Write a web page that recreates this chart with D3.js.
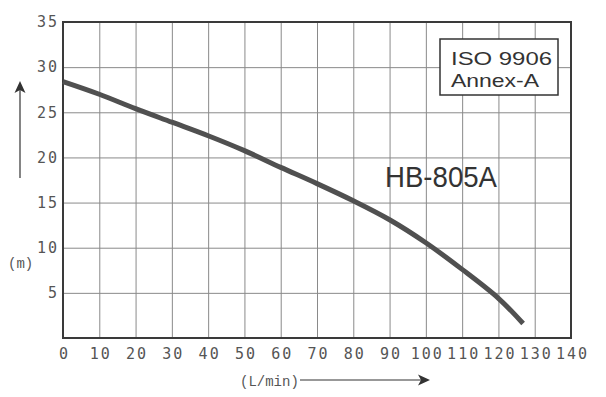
<!DOCTYPE html>
<html>
<head>
<meta charset="utf-8">
<script src="https://cdn.jsdelivr.net/npm/d3@7"></script>
<style>
body { margin: 0; background: #fff; }
.grid line { stroke: #8a8a8a; stroke-width: 1; }
.grid path { display: none; }
.tick text { font-family: "DejaVu Sans Mono", monospace; font-size: 15px; fill: #555; letter-spacing: 2px; }
</style>
</head>
<body>
<div class="chart"></div>
<script>
'use strict';
var flow = [0, 10, 20, 30, 40, 50, 60, 70, 80, 90, 100, 110, 120, 126.8];
var head = [28.4, 27.0, 25.4, 23.9, 22.4, 20.75, 18.9, 17.1, 15.2, 13.1, 10.55, 7.6, 4.4, 1.6];
var xTicks = [0, 10, 20, 30, 40, 50, 60, 70, 80, 90, 100, 110, 120, 130, 140];
var yTicks = [5, 10, 15, 20, 25, 30, 35];

var margin = {top: 22, left: 63, right: 35, bottom: 59};
var W = 606, H = 397;
var svg = {w: W - margin.left - margin.right, h: H - margin.top - margin.bottom};

var chart = d3.select(".chart")
  .append("svg")
    .attr("width", W)
    .attr("height", H);

var xScale = d3.scaleLinear().domain([0, 140]).range([0, svg.w]);
var yScale = d3.scaleLinear().domain([0, 35]).range([svg.h, 0]);

var g = chart.append("g")
  .attr("transform", "translate(" + margin.left + "," + margin.top + ")");

// grid + labels
g.append("g")
  .attr("class", "grid")
  .attr("transform", "translate(0," + svg.h + ")")
  .call(d3.axisBottom(xScale).tickValues(xTicks).tickSize(-svg.h).tickPadding(10).tickFormat(d3.format("d")))
  .selectAll("text").attr("dx", "1px");

g.append("g")
  .attr("class", "grid")
  .call(d3.axisLeft(yScale).tickValues(yTicks).tickSize(-svg.w).tickPadding(4).tickFormat(d3.format("d")));

// frame
g.append("rect")
  .attr("width", svg.w).attr("height", svg.h)
  .attr("fill", "none").attr("stroke", "#3a3a3a").attr("stroke-width", 2);

// curve
var line = d3.line()
  .x(function(d, i) { return xScale(flow[i]); })
  .y(function(d) { return yScale(d); })
  .curve(d3.curveCatmullRom.alpha(0.5));

g.append("path")
  .datum(head)
  .attr("d", line)
  .attr("fill", "none")
  .attr("stroke", "#505050")
  .attr("stroke-width", 5)
  .attr("stroke-linecap", "butt");

// ISO box
chart.append("rect")
  .attr("x", 440).attr("y", 39).attr("width", 118).attr("height", 56)
  .attr("fill", "#fff").attr("stroke", "#333").attr("stroke-width", 1.5);
chart.append("text")
  .attr("x", 451).attr("y", 65)
  .attr("textLength", 101).attr("lengthAdjust", "spacingAndGlyphs")
  .style("font-family", "Liberation Sans, Arial, sans-serif")
  .style("font-size", "19px").style("fill", "#333")
  .text("ISO 9906");
chart.append("text")
  .attr("x", 451).attr("y", 87)
  .attr("textLength", 88).attr("lengthAdjust", "spacingAndGlyphs")
  .style("font-family", "Liberation Sans, Arial, sans-serif")
  .style("font-size", "19px").style("fill", "#333")
  .text("Annex-A");

chart.append("text")
  .attr("x", 385).attr("y", 187)
  .attr("textLength", 112).attr("lengthAdjust", "spacingAndGlyphs")
  .style("font-family", "Liberation Sans, Arial, sans-serif")
  .style("font-size", "30px").style("fill", "#333")
  .text("HB-805A");

// axis units and arrows
chart.append("text")
  .attr("x", 8).attr("y", 268)
  .style("font-family", "Liberation Mono, Courier New, monospace")
  .style("font-size", "14px").style("fill", "#555")
  .text("(m)");

chart.append("text")
  .attr("x", 240).attr("y", 386)
  .style("font-family", "Liberation Mono, Courier New, monospace")
  .style("font-size", "14px").style("fill", "#555")
  .text("(L/min)");

chart.append("line")
  .attr("x1", 20).attr("y1", 178).attr("x2", 20).attr("y2", 86)
  .attr("stroke", "#333").attr("stroke-width", 1.2);
chart.append("path")
  .attr("d", "M20,81 L14.5,93 L20,90 L25.5,93 Z")
  .attr("fill", "#333");

chart.append("line")
  .attr("x1", 300).attr("y1", 380).attr("x2", 425).attr("y2", 380)
  .attr("stroke", "#333").attr("stroke-width", 1.2);
chart.append("path")
  .attr("d", "M430,380 L418,374.5 L421,380 L418,385.5 Z")
  .attr("fill", "#333");
</script>
</body>
</html>
